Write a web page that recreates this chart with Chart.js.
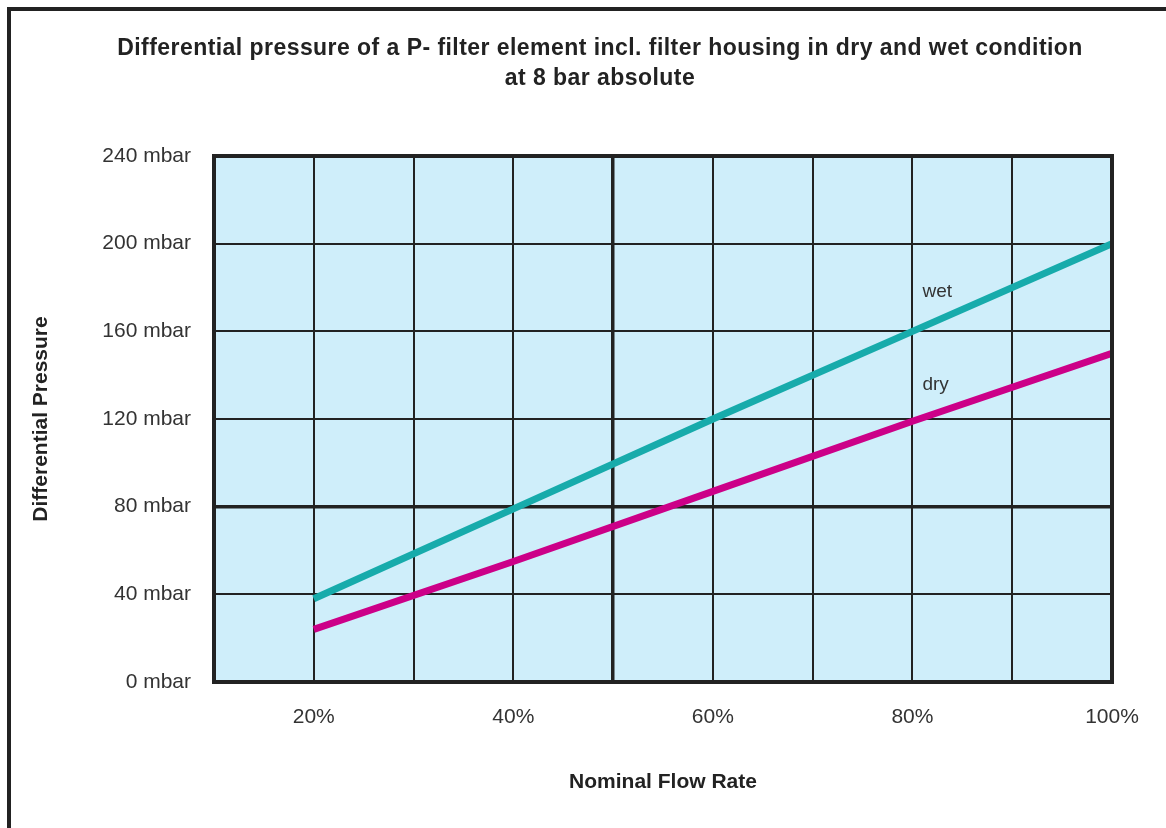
<!DOCTYPE html>
<html>
<head>
<meta charset="utf-8">
<title>Differential pressure</title>
<script src="https://cdn.jsdelivr.net/npm/chart.js@4.4.1/dist/chart.umd.min.js"></script>
<style>
  body { margin: 0; background: #fff; }
  #wrap { width: 1166px; height: 828px; }
</style>
</head>
<body>
<div id="wrap"><canvas id="dpChart" width="1166" height="828"></canvas></div>
<script>
// data
const flowRates = [20, 40, 60, 80, 100];          // % nominal flow
const wetValues = [38, 79, 120, 160, 200];        // mbar
const dryValues = [24, 55, 87, 119, 150];         // mbar
const xTickLabels = { 20: '20%', 40: '40%', 60: '60%', 80: '80%', 100: '100%' };
const yTickLabels = { 0: '0 mbar', 40: '40 mbar', 80: '80 mbar', 120: '120 mbar', 160: '160 mbar', 200: '200 mbar', 240: '240 mbar' };
const titleLines = ['Differential pressure of a P- filter element incl. filter housing in dry and wet condition', 'at 8 bar absolute'];

const FONT = "'Liberation Sans', Arial, sans-serif";
const GRID = '#222222';

// frame, plot background, plot border, titles and line names
const decorations = {
    id: 'decorations',
    beforeDraw(chart) {
        const c = chart.ctx;
        const a = chart.chartArea;
        c.save();
        c.fillStyle = '#ffffff';
        c.fillRect(0, 0, chart.width, chart.height);
        // outer frame (left + top)
        c.strokeStyle = '#222';
        c.lineWidth = 4;
        c.beginPath();
        c.moveTo(9, chart.height);
        c.lineTo(9, 9);
        c.lineTo(chart.width, 9);
        c.stroke();
        c.fillStyle = '#cfeefa';
        c.fillRect(a.left, a.top, a.right - a.left, a.bottom - a.top);
        // title
        c.fillStyle = '#222';
        c.font = 'bold 23px ' + FONT;
        c.letterSpacing = '0.45px';
        c.textAlign = 'center';
        c.textBaseline = 'middle';
        c.fillText(titleLines[0], 600, 49);
        c.fillText(titleLines[1], 600, 79);
        c.restore();
    },
    afterDatasetsDraw(chart) {
        const c = chart.ctx;
        const a = chart.chartArea;
        const xs = chart.scales.x, ys = chart.scales.y;
        c.save();
        c.strokeStyle = '#222';
        c.lineWidth = 4;
        c.strokeRect(a.left, a.top, a.right - a.left, a.bottom - a.top);
        c.fillStyle = '#333';
        c.font = '19px ' + FONT;
        c.textAlign = 'left';
        c.textBaseline = 'middle';
        c.fillText('wet', xs.getPixelForValue(81), ys.getPixelForValue(178));
        c.fillText('dry', xs.getPixelForValue(81), ys.getPixelForValue(135.5));
        c.restore();
    }
};

const ctx = document.getElementById('dpChart').getContext('2d');
const dpChart = new Chart(ctx, {
    type: 'line',
    data: {
        datasets: [{
            label: 'wet',
            data: flowRates.map((f, i) => ({ x: f, y: wetValues[i] })),
            borderColor: '#17abab',
            borderWidth: 7,
            pointRadius: 0,
            borderCapStyle: 'butt',
            tension: 0
        }, {
            label: 'dry',
            data: flowRates.map((f, i) => ({ x: f, y: dryValues[i] })),
            borderColor: '#cc0088',
            borderWidth: 7,
            pointRadius: 0,
            borderCapStyle: 'butt',
            tension: 0
        }]
    },
    options: {
        responsive: false,
        animation: false,
        layout: { padding: { left: 12, right: 54, top: 156, bottom: 0 } },
        plugins: {
            legend: { display: false },
            tooltip: { enabled: false }
        },
        scales: {
            x: {
                type: 'linear',
                min: 10,
                max: 100,
                afterFit: s => { s.height = 146; },
                border: { display: false },
                grid: {
                    color: GRID,
                    lineWidth: c => (c.tick && c.tick.value === 50 ? 3.5 : 2),
                    drawTicks: false
                },
                ticks: {
                    stepSize: 10,
                    autoSkip: false,
                    maxRotation: 0,
                    padding: 23,
                    color: '#333',
                    font: { family: FONT, size: 21 },
                    callback: v => xTickLabels[v] || ''
                },
                title: {
                    display: true,
                    text: 'Nominal Flow Rate',
                    color: '#222',
                    font: { family: FONT, size: 21, weight: 'bold' },
                    padding: { top: 0, bottom: 33 }
                }
            },
            y: {
                min: 0,
                max: 240,
                afterFit: s => { s.width = 202; },
                border: { display: false },
                grid: {
                    color: GRID,
                    lineWidth: c => (c.tick && c.tick.value === 80 ? 3.5 : 2),
                    drawTicks: false
                },
                ticks: {
                    stepSize: 40,
                    autoSkip: false,
                    padding: 23,
                    color: '#333',
                    font: { family: FONT, size: 21 },
                    callback: v => yTickLabels[v] || ''
                },
                title: {
                    display: true,
                    text: 'Differential Pressure',
                    color: '#222',
                    font: { family: FONT, size: 21, weight: 'bold' },
                    padding: { top: 17, bottom: 0 }
                }
            }
        }
    },
    plugins: [decorations]
});
</script>
</body>
</html>
